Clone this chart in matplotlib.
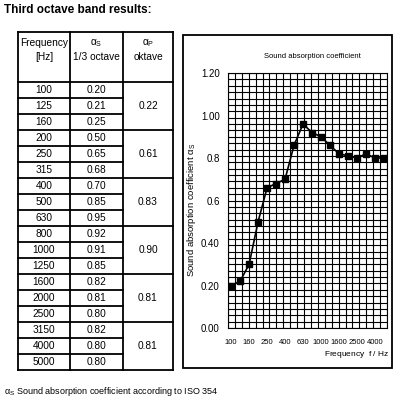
import matplotlib
matplotlib.use("Agg")
import matplotlib.pyplot as plt
import numpy as np

plt.rcParams['font.family'] = ['Liberation Sans', 'DejaVu Sans']
plt.rcParams['mathtext.fontset'] = 'custom'
plt.rcParams['mathtext.rm'] = 'Liberation Sans'
plt.rcParams['mathtext.it'] = 'Liberation Sans'

freqs = ["100", "125", "160", "200", "250", "315", "400", "500", "630",
         "800", "1000", "1250", "1600", "2000", "2500", "3150", "4000", "5000"]
alpha_s = ["0.20", "0.21", "0.25", "0.50", "0.65", "0.68", "0.70", "0.85", "0.95",
           "0.92", "0.91", "0.85", "0.82", "0.81", "0.80", "0.82", "0.80", "0.80"]
alpha_p = ["0.22", "0.61", "0.83", "0.90", "0.81", "0.81"]
plot_vals = [0.20, 0.22, 0.30, 0.50, 0.66, 0.68, 0.70, 0.86, 0.96,
             0.92, 0.90, 0.86, 0.82, 0.81, 0.80, 0.82, 0.80, 0.80]
xtick_labels = ["100", "160", "250", "400", "630", "1000", "1600", "2500", "4000"]
ytick_vals = [0.0, 0.2, 0.4, 0.6, 0.8, 1.0, 1.2]
ytick_labels = ["0.00", "0.20", "0.40", "0.6", "0.8", "1.00", "1.20"]

fig = plt.figure(figsize=(4, 4), dpi=100)
bg = fig.add_axes([0, 0, 1, 1])
bg.set_xlim(0, 400); bg.set_ylim(400, 0); bg.axis('off')

bg.text(4, 10, "Third octave band results:", fontsize=8.5, fontweight='bold', va='center')

# table
xs = [18, 70, 123, 173]
top, hdr, bot = 32, 82, 370
rh = (bot - hdr) / 18
lw = 1.3
for x in xs:
    bg.plot([x, x], [top, bot], color='black', lw=lw)
bg.plot([xs[0], xs[3]], [top, top], color='black', lw=lw)
bg.plot([xs[0], xs[3]], [hdr, hdr], color='black', lw=lw)
for i in range(1, 19):
    y = hdr + i * rh
    x1 = xs[3] if i % 3 == 0 else xs[2]
    bg.plot([xs[0], x1], [y, y], color='black', lw=lw)
fs = 7.3
bg.text(44, 50, "Frequency\n[Hz]", ha='center', va='center', fontsize=fs, linespacing=1.4)
bg.text(96.5, 50, "$\\alpha_S$\n1/3 octave", ha='center', va='center', fontsize=fs, linespacing=1.4)
bg.text(148, 50, "$\\alpha_P$\noktave", ha='center', va='center', fontsize=fs, linespacing=1.4)
for i, (f, a) in enumerate(zip(freqs, alpha_s)):
    yc = hdr + (i + 0.5) * rh
    bg.text(44, yc, f, ha='center', va='center', fontsize=fs)
    bg.text(96.5, yc, a, ha='center', va='center', fontsize=fs)
for j, a in enumerate(alpha_p):
    yc = hdr + (3 * j + 1.5) * rh
    bg.text(148, yc, a, ha='center', va='center', fontsize=fs)

# chart frame
bg.add_patch(plt.Rectangle((183, 35), 209, 333, fill=False, lw=1.3, color='black'))
bg.text(312, 57, "Sound absorption coefficient", ha='center', va='center', fontsize=5.5)
bg.text(192, 210, "Sound absorption coefficient $\\alpha_S$", rotation=90,
        ha='center', va='center', fontsize=6.8)
bg.text(389, 355, "Frequency  $f$ / Hz", ha='right', va='center', fontsize=6)
bg.text(4, 391, "$\\alpha_S$ Sound absorption coefficient according to ISO 354",
        va='center', fontsize=6.5)

ax = fig.add_axes([228/400, (400-328)/400, 159/400, 255/400])
n = len(plot_vals)
xi = np.arange(n)
ax.set_xlim(-0.35, n - 0.65)
ax.set_ylim(0, 1.2)
for gx in np.linspace(-0.35, n - 0.65, 24):
    ax.axvline(gx, color='black', lw=0.8)
for gy in np.arange(0, 1.2001, 0.03):
    ax.axhline(gy, color='black', lw=0.8)
ax.plot(xi, plot_vals, color='black', lw=1.2, marker='s', ms=4.5)
ax.set_xticks(xi[::2])
ax.set_xticklabels(xtick_labels, fontsize=5.5)
ax.set_yticks(ytick_vals)
ax.set_yticklabels(ytick_labels, fontsize=7)
ax.tick_params(length=0, pad=6)
ax.tick_params(axis='x', pad=8)
for s in ax.spines.values():
    s.set_linewidth(0.8)

fig.savefig("out.png", dpi=100)
